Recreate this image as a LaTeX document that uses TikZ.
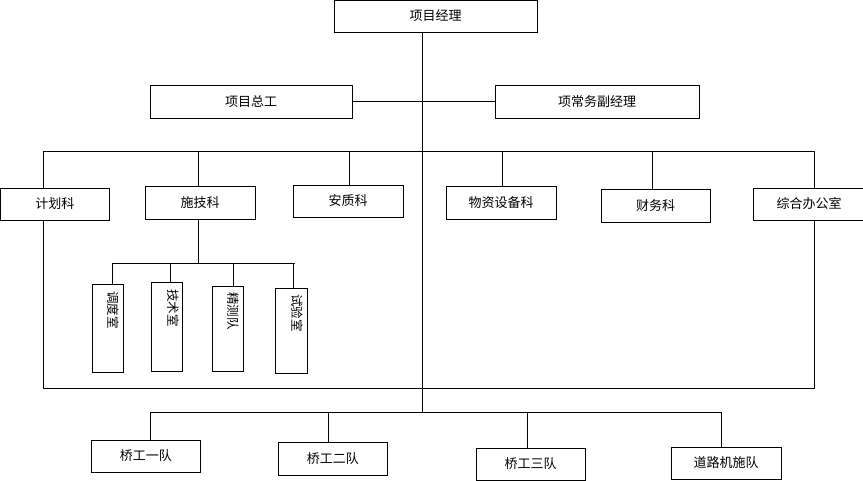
\documentclass[tikz,border=0pt]{standalone}
\usepackage{fontspec}
\setmainfont{Noto Sans CJK SC}
\begin{document}
\begin{tikzpicture}[x=1pt,y=-1pt,
  box/.style={draw,line width=0.9pt,inner sep=0pt,font=\fontsize{13pt}{15pt}\selectfont},
  vbox/.style={draw,line width=0.9pt,inner sep=0pt},
  vtext/.style={rotate=-90,anchor=west,inner sep=0pt,font=\fontsize{12.5pt}{14pt}\selectfont},
  conn/.style={line width=0.9pt}]
\useasboundingbox (0,0) rectangle (863,481);
\fill[white] (0,0) rectangle (863,481);
% top level
\node[box,minimum width=203pt,minimum height=32pt] (pm) at (435.5,16) {\raisebox{2pt}{项目经理}};
\node[box,minimum width=202pt,minimum height=33pt] (zg) at (251,101.5) {项目总工};
\node[box,minimum width=204pt,minimum height=33pt] (fj) at (597,101.5) {项常务副经理};
% departments
\node[box,minimum width=108.5pt,minimum height=32pt] (jh) at (54.75,204) {计划科};
\node[box,minimum width=110pt,minimum height=33pt] (sj) at (200,202.5) {施技科};
\node[box,minimum width=110pt,minimum height=32pt] (az) at (348,201) {安质科};
\node[box,minimum width=110pt,minimum height=33pt] (wz) at (501,202.5) {物资设备科};
\node[box,minimum width=109pt,minimum height=33pt] (cw) at (655.5,205.5) {财务科};
\node[box,minimum width=112pt,minimum height=32pt] (zh) at (809,204) {综合办公室};
% sub offices
\node[vbox,minimum width=31pt,minimum height=88pt] (dd) at (107.5,328) {};
\node[vbox,minimum width=31pt,minimum height=89pt] (js) at (166.5,326.5) {};
\node[vbox,minimum width=31pt,minimum height=85pt] (jc) at (227.5,328.5) {};
\node[vbox,minimum width=32pt,minimum height=85pt] (sy) at (291,330.5) {};
\node[vtext] (ddt) at (113,291) {调度室};
\node[vtext] (jst) at (173,289) {技术室};
\node[vtext] (jct) at (233,292) {精测队};
\node[vtext] (syt) at (297,294) {试验室};
% teams
\node[box,minimum width=109.5pt,minimum height=32pt] (q1) at (145.75,456) {桥工一队};
\node[box,minimum width=108.5pt,minimum height=33pt] (q2) at (332.75,458.5) {桥工二队};
\node[box,minimum width=109pt,minimum height=32pt] (q3) at (530.5,464) {桥工三队};
\node[box,minimum width=110pt,minimum height=32pt] (dl) at (726,463) {道路机施队};
% bus coordinates
\coordinate (m1) at (422,412);
\coordinate (b1) at (43,151);
\coordinate (b2) at (814,151);
\coordinate (c1) at (43,388);
\coordinate (c2) at (814,388);
\coordinate (s0) at (198,263);
\coordinate (s1) at (112,263);
\coordinate (s4) at (295,263);
\coordinate (t1) at (150,412);
\coordinate (t4) at (721,412);
% connectors
\draw[conn] (m1 |- pm.south) -- (m1);
\draw[conn] (zg.east) -- (fj.west);
\draw[conn] (jh.north -| b1) -- (b1) -- (b2) -- (zh.north -| b2);
\draw[conn] ([xshift=-2pt]sj.north) -- ([xshift=-2pt]sj.north |- b1);
\draw[conn] ([xshift=1pt]az.north) -- ([xshift=1pt]az.north |- b1);
\draw[conn] ([xshift=1pt]wz.north) -- ([xshift=1pt]wz.north |- b1);
\draw[conn] ([xshift=-3.5pt]cw.north) -- ([xshift=-3.5pt]cw.north |- b1);
\draw[conn] (jh.south -| c1) -- (c1) -- (c2) -- (zh.south -| c2);
\draw[conn] ([xshift=-2pt]sj.south) -- (s0);
\draw[conn] (s1) -- (s4);
\draw[conn] ([xshift=4.5pt]dd.north) -- ([xshift=4.5pt]dd.north |- s1);
\draw[conn] ([xshift=3.5pt]js.north) -- ([xshift=3.5pt]js.north |- s1);
\draw[conn] ([xshift=5.5pt]jc.north) -- ([xshift=5.5pt]jc.north |- s1);
\draw[conn] ([xshift=2pt]sy.north) -- ([xshift=2pt]sy.north |- s1);
\draw[conn] (t1) -- (t4);
\draw[conn] (q1.north -| t1) -- (t1);
\draw[conn] ([xshift=-4.25pt]q2.north) -- ([xshift=-4.25pt]q2.north |- t1);
\draw[conn] ([xshift=-3.5pt]q3.north) -- ([xshift=-3.5pt]q3.north |- t1);
\draw[conn] (dl.north -| t4) -- (t4);
\end{tikzpicture}
\end{document}
